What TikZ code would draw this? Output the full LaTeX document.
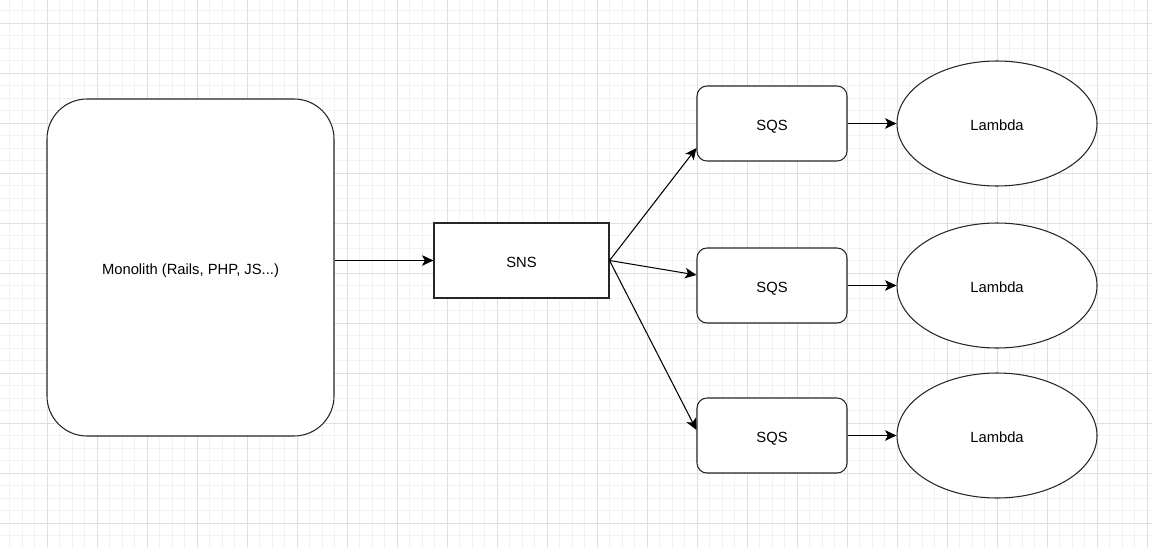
\documentclass[tikz,border=0pt]{standalone}
\usepackage{fontspec}
\setmainfont{Liberation Sans}
\usetikzlibrary{arrows.meta,shapes.geometric}

\begin{document}
\begin{tikzpicture}[
    >={Stealth[length=6.5pt,width=6pt,inset=1.6pt]},
    line width=0.6pt,
    every node/.style={font=\fontsize{8.4}{10}\selectfont, text=black,
      text height=8pt, text depth=0pt},
    monobox/.style={draw=black!85, fill=white, rounded corners=0.8cm,
      minimum width=5.74cm, minimum height=6.74cm, inner sep=0pt},
    topicbox/.style={draw=black!85, fill=white,
      minimum width=3.5cm, minimum height=1.5cm, inner sep=0pt},
    queuebox/.style={draw=black!85, fill=white, rounded corners=0.2cm,
      minimum width=3cm, minimum height=1.5cm, inner sep=0pt},
    funcnode/.style={draw=black!85, fill=white, ellipse,
      minimum width=4cm, minimum height=2.5cm, inner sep=0pt},
    link/.style={->, draw=black}
  ]

  % --- 1. 背景のグリッド ---
  \useasboundingbox (0,0) rectangle (23.04,-10.94);
  \fill[white] (0,0) rectangle (23.04,-10.94);
  \begin{scope}
    \clip (0,0) rectangle (23.04,-10.94);
    \draw[gray!10, line width=0.5pt, step=0.25cm, shift={(0.94,-0.46)}]
    (-1,-11) grid (23,1);
    \draw[gray!25, line width=0.5pt, step=1cm, shift={(0.94,-0.46)}]
    (-1,-11) grid (23,1);
  \end{scope}

  % --- 2. ノード ---
  \node[monobox] (mono) at (3.81,-5.35) {Monolith (Rails, PHP, JS...)};
  \node[topicbox] (sns) at (10.43,-5.21) {SNS};

  % SQS キュー
  \node[queuebox] (sqs1) at (15.44,-2.47) {SQS};
  \node[queuebox] (sqs2) at (15.44,-5.71) {SQS};
  \node[queuebox] (sqs3) at (15.44,-8.71) {SQS};

  % Lambda 関数
  \node[funcnode] (lam1) at (19.94,-2.47) {Lambda};
  \node[funcnode] (lam2) at (19.94,-5.71) {Lambda};
  \node[funcnode] (lam3) at (19.94,-8.71) {Lambda};

  % --- 3. 矢印 ---
  \draw[link] (mono.east |- sns.west) -- (sns.west);

  % SNS -> SQS (ファンアウト)
  \draw[link] (sns.east) -- ([yshift=-0.49cm]sqs1.west);
  \draw[link] (sns.east) -- ([yshift=0.21cm]sqs2.west);
  \draw[link] (sns.east) -- ([yshift=0.11cm]sqs3.west);

  % SQS -> Lambda
  \draw[link] (sqs1.east) -- (lam1.west);
  \draw[link] (sqs2.east) -- (lam2.west);
  \draw[link] (sqs3.east) -- (lam3.west);

\end{tikzpicture}
\end{document}
